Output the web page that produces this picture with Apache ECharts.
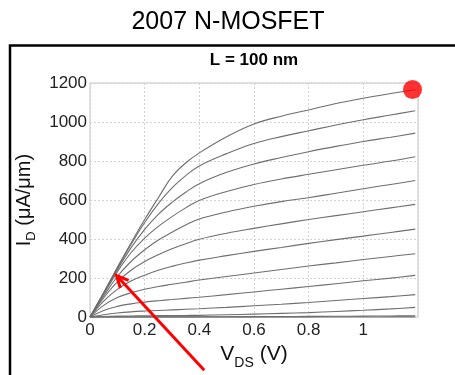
<!DOCTYPE html>
<html><head><meta charset="utf-8">
<script src="https://cdn.jsdelivr.net/npm/echarts@6/dist/echarts.min.js"></script>
<style>html,body{margin:0;padding:0;background:#fff}#c{width:455px;height:375px}</style>
</head><body><div id="c"></div>
<script>
// Drain voltage samples (V)
const vds = [0, 0.05, 0.1, 0.15, 0.2, 0.25, 0.3, 0.35, 0.4, 0.5, 0.6, 0.7, 0.8, 0.9, 1.0, 1.1, 1.19];
// Drain current (uA/um), one array per gate-voltage step, top to bottom
const idStep1  = [0,125,255,380,500,612,720,790,842,925,990,1030,1062,1095,1122,1146,1166];
const idStep2  = [0,125,250,372,485,582,662,725,775,838,890,925,955,985,1012,1036,1058];
const idStep3  = [0,122,242,355,450,527,588,640,684,742,785,818,848,875,900,922,943];
const idStep4  = [0,118,232,330,405,465,515,560,598,644,680,708,732,755,778,800,822];
const idStep5  = [0,108,208,285,345,395,435,472,503,539,568,592,612,635,658,680,700];
const idStep6  = [0,98,180,240,285,320,350,376,399,430,455,478,500,520,540,560,578];
const idStep7  = [0,82,142,185,215,240,260,277,292,315,337,357,378,397,415,434,451];
const idStep8  = [0,60,100,125,143,157,168,179,190,208,226,244,262,278,295,311,325];
const idStep9  = [0,34,55,68,77,84,90,96,102,115,129,143,157,171,186,200,214];
const idStep10 = [0,12,21,27,31,34,37,40,43,50,58,66,75,85,95,105,115];
const idStep11 = [0,3,5,6,7,7.5,8,8.5,9,12,15,19,23,29,35,42,50];
const idStep12 = [0,0.5,1,1,1,1,1,1.2,1.5,2,2.5,3,3.5,4,5,6,7];
const idStep13 = [0,0,0,0,0,0,0,0,0,0,0,0,0,0.5,0.5,1,1];
// Highlighted point and arrow annotation (data coords)
const markerPoint = [[1.18, 1167]];
const arrowTip = [0.097, 213];
const arrowTail = [0.418, -272];
// Tick labels
const xTickLabels = ['0', '0.2', '0.4', '0.6', '0.8', '1', ''];
const yTickLabels = ['0', '200', '400', '600', '800', '1000', '1200'];
const chartTitle = '2007 N-MOSFET';
const subTitle = 'L = 100 nm';

const FONT = '"Liberation Sans", Arial, sans-serif';
const curves = [idStep1, idStep2, idStep3, idStep4, idStep5, idStep6, idStep7, idStep8, idStep9, idStep10, idStep11, idStep12, idStep13];
const chart = echarts.init(document.getElementById('c'));
const series = curves.map(c => ({
  type: 'line', data: vds.map((x, i) => [x, c[i]]), showSymbol: false, smooth: 0.4,
  lineStyle: { color: '#6e6e6e', width: 1.1 }, silent: true
}));
series.push({ type: 'scatter', data: markerPoint, symbolSize: 19, itemStyle: { color: '#ff0000' }, z: 10, silent: true });

chart.setOption({
  animation: false,
  textStyle: { fontFamily: FONT },
  grid: { left: 90, top: 83, width: 328, height: 242, show: true, borderColor: '#c4c4c4', borderWidth: 1 },
  xAxis: {
    type: 'value', min: 0, max: 1.2, interval: 0.2,
    axisLine: { show: false }, axisTick: { show: false },
    splitLine: { lineStyle: { color: '#d2d2d2', type: [2, 2], width: 1 } },
    axisLabel: { fontSize: 17, color: '#222', margin: 5, fontFamily: FONT,
      formatter: v => xTickLabels[Math.round(v / 0.2)] },
    name: '{m|V}{s|DS}{m| (V)}', nameLocation: 'middle', nameGap: 14,
    nameTextStyle: { rich: {
      m: { fontSize: 21, color: '#111', fontFamily: FONT, lineHeight: 26, verticalAlign: 'top' },
      s: { fontSize: 14, color: '#111', fontFamily: FONT, lineHeight: 14, verticalAlign: 'bottom' } } }
  },
  yAxis: {
    type: 'value', min: 0, max: 1200, interval: 200,
    axisLine: { show: false }, axisTick: { show: false },
    splitLine: { lineStyle: { color: '#d2d2d2', type: [2, 2], width: 1 } },
    axisLabel: { fontSize: 17, color: '#222', margin: 3, fontFamily: FONT,
      formatter: v => yTickLabels[Math.round(v / 200)] },
    name: '{m|I}{s|D}{m| (μA/μm)}', nameLocation: 'middle', nameGap: 47, nameRotate: 90,
    nameTextStyle: { rich: {
      m: { fontSize: 20, color: '#111', fontFamily: FONT, lineHeight: 24, verticalAlign: 'top' },
      s: { fontSize: 13, color: '#111', fontFamily: FONT, lineHeight: 13, verticalAlign: 'bottom' } } }
  },
  series: series
});

const tip = chart.convertToPixel({ gridIndex: 0 }, arrowTip);
const tail = chart.convertToPixel({ gridIndex: 0 }, arrowTail);
const dx = tail[0] - tip[0], dy = tail[1] - tip[1];
const len = Math.hypot(dx, dy), ux = dx / len, uy = dy / len;
const ah = 13, ang = 0.45;
const rot = (a) => [tip[0] + ah * (ux * Math.cos(a) - uy * Math.sin(a)), tip[1] + ah * (ux * Math.sin(a) + uy * Math.cos(a))];
const plotCenterX = chart.convertToPixel({ gridIndex: 0 }, [0.6, 0])[0];

chart.setOption({
  graphic: [
    { type: 'polyline', shape: { points: [[10, 390], [10, 45.5], [470, 45.5]] }, style: { stroke: '#000', lineWidth: 2.5, fill: null } },
    { type: 'text', x: 228, y: 22.5, style: { text: chartTitle, font: '25px ' + FONT, fill: '#000', textAlign: 'center', textVerticalAlign: 'middle' } },
    { type: 'text', x: plotCenterX, y: 60.5, style: { text: subTitle, font: 'bold 17px ' + FONT, fill: '#000', textAlign: 'center', textVerticalAlign: 'middle' } },
    { type: 'line', shape: { x1: tip[0] + ux * 2, y1: tip[1] + uy * 2, x2: tail[0], y2: tail[1] }, style: { stroke: '#ff0000', lineWidth: 3 }, z: 100 },
    { type: 'polyline', shape: { points: [rot(ang), tip, rot(-ang)] }, style: { stroke: '#ff0000', lineWidth: 3, fill: null, lineJoin: 'miter' }, z: 100 }
  ]
});
</script></body></html>
